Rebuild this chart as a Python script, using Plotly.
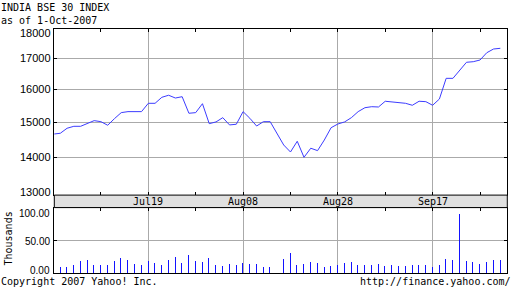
import math
import pandas as pd
import plotly.graph_objects as go

# ---------------- data ----------------
# weekday calendar (trading-day axis), Jun 29 2007 .. Oct 1 2007
dates = [d.strftime("%Y-%m-%d") for d in pd.bdate_range("2007-06-29", "2007-10-01")]

close = [
    14652,                                                  # Jun 29
    14675, 14820, 14877, 14877, 14954,                      # Jul 2-6
    15043, 15013, 14908, 15102, 15281,                      # Jul 9-13
    15311, 15302, 15311, 15563, 15563,                      # Jul 16-20
    15747, 15811, 15725, 15766, 15262,                      # Jul 23-27
    15281, 15551, 14954, 15005, 15131,                      # Jul 30-Aug 3
    14917, 14937, 15311, 15113, 14885,                      # Aug 6-10
    15013, 15013, None, 14342, 14146,                       # Aug 13-17 (15th holiday)
    14447, 14000, 14251, 14184, 14483,                      # Aug 20-24
    14836, 14944, 15005, 15131, 15311,                      # Aug 27-31
    15430, 15460, 15451, 15626, 15604,                      # Sep 3-7
    15595, 15563, 15503, 15626, 15613,                      # Sep 10-14
    15503, 15694, 16344, 16344, 16589,                      # Sep 17-21
    16866, 16886, 16942, 17186, 17311,                      # Sep 24-28
    17335,                                                  # Oct 1
]

volume_k = [
    None,
    9.9, 9.9, 14, 19, 20.5,
    14, 12.5, 14, 20, 23.5,
    20.5, 15.5, 13, 19, 17,
    12.5, 21.5, 25, 17, 29,
    20, 18.5, 23.5, 14, 11,
    15.5, 14, 17, 15.5, 15.5,
    9.9, 9.9, None, 22, 32,
    12.5, 15.5, 18.5, 17, 9.5,
    11, 14, 17, 18.5, 14,
    14, 12.5, 15.5, 11, 14,
    11, 11, 12.5, 12.5, 12.5,
    9.5, 12.5, 23, 21.5, 90.5,
    20, 18.5, 15.5, 18.5, 21.5,
    21.5,
]

major_dates = ["2007-07-19", "2007-08-08", "2007-08-28", "2007-09-17"]
major_labels = ["Jul19", "Aug08", "Aug28", "Sep17"]
minor_dates = ["2007-07-10", "2007-07-30", "2007-08-17", "2007-09-06", "2007-09-26"]

price_ticks = [13000, 14000, 15000, 16000, 17000, 18000]
price_labels = ["13000", "14000", "15000", "16000", "17000", "18000"]
vol_ticks = [0, 50, 100]
vol_labels = ["0.00", "50.00", "100.00"]

title1 = "INDIA BSE 30 INDEX"
title2 = "as of 1-Oct-2007"
foot_left = "Copyright 2007 Yahoo! Inc."
foot_right = "http://finance.yahoo.com/"

# ---------------- figure ----------------
W, H = 512, 288
x = list(range(len(dates)))
major_idx = [dates.index(d) for d in major_dates]
minor_idx = [dates.index(d) for d in minor_dates]

X0, X1 = 54.3, 507.3            # plot left/right (px)
MAIN_TOP, MAIN_BOT = 29.1, 195.1
VOL_TOP, VOL_BOT = 207.6, 273.3
xdom = [X0 / W, X1 / W]
xrange_ = [0.114, 67.03]

mono = "DejaVu Sans Mono"
sans = "Liberation Sans"
grid = "#aaaaaa"

def py(p):
    return 1 - p / H

fig = go.Figure()
fig.add_trace(go.Scatter(
    x=x, y=close, mode="lines", connectgaps=True,
    line=dict(color="#3c3cff", width=1),
    xaxis="x", yaxis="y", hoverinfo="skip",
))
fig.add_trace(go.Bar(
    x=x, y=volume_k, width=0.147,
    marker=dict(color="rgba(16,16,255,0.99)", line=dict(width=0)),
    xaxis="x2", yaxis="y2", hoverinfo="skip",
))

common_x = dict(
    domain=xdom, range=xrange_, tickmode="array", tickvals=major_idx,
    showticklabels=False, showgrid=True, gridcolor=grid, gridwidth=1,
    ticks="inside", ticklen=3, tickcolor="black", tickwidth=1,
    showline=True, linecolor="black", linewidth=1, zeroline=False,
    minor=dict(tickmode="array", tickvals=minor_idx, ticks="inside",
               ticklen=3, tickcolor="black", showgrid=False),
)

fig.update_layout(
    width=W, height=H, margin=dict(l=0, r=0, t=0, b=0),
    paper_bgcolor="white", plot_bgcolor="white", showlegend=False,
    bargap=0,
    xaxis=dict(**common_x, anchor="y", mirror="allticks"),
    yaxis=dict(
        domain=[py(MAIN_BOT), py(MAIN_TOP)], type="log",
        range=[math.log10(13000), math.log10(18000)],
        tickmode="array", tickvals=price_ticks, showticklabels=False,
        showgrid=True, gridcolor=grid, gridwidth=1,
        ticks="inside", ticklen=3, tickcolor="black",
        showline=True, linecolor="black", linewidth=1, mirror="allticks",
        zeroline=False, anchor="x",
    ),
    xaxis2=dict(**common_x, anchor="y2", side="top", mirror=True),
    yaxis2=dict(
        domain=[py(VOL_BOT), py(VOL_TOP)], range=[0, 100],
        tickmode="array", tickvals=vol_ticks, showticklabels=False,
        showgrid=True, gridcolor=grid, gridwidth=1,
        ticks="inside", ticklen=3, tickcolor="black",
        showline=True, linecolor="black", linewidth=1, mirror="allticks",
        zeroline=False, anchor="x2",
    ),
)

# grey date band between panels
fig.add_shape(type="rect", xref="paper", yref="paper",
              x0=xdom[0], x1=xdom[1], y0=py(VOL_TOP), y1=py(MAIN_BOT),
              fillcolor="#e0e0e0", line=dict(color="black", width=1), layer="above")

ann = []
def text(t, xx, yy, xref="paper", yref="paper", xanchor="left", yanchor="middle",
         font=mono, size=10, yshift=0, angle=0):
    ann.append(dict(text=t, x=xx, y=yy, xref=xref, yref=yref, xanchor=xanchor,
                    yanchor=yanchor, showarrow=False, borderpad=0, yshift=yshift,
                    textangle=angle, font=dict(family=font, size=size, color="black")))

text(title1, 0, py(7), xanchor="left")
text(title2, 0, py(20.5), xanchor="left")
text(foot_left, 0, py(281.5), xanchor="left")
text(foot_right, 1, py(281.5), xanchor="right")
text("Thousands", 7.5 / W, py(239), xanchor="center", angle=-90)

for i, lab in zip(major_idx, major_labels):
    text(lab, i, py(201), xref="x", xanchor="center")

for v, lab in zip(price_ticks, price_labels):
    sh = -4 if v == price_ticks[-1] else (3 if v == price_ticks[0] else 0)
    text(lab, 51.5 / W, math.log10(v), yref="y", xanchor="right",
         font=sans, size=11, yshift=sh)

for v, lab in zip(vol_ticks, vol_labels):
    sh = -5.5 if v == vol_ticks[-1] else (3 if v == vol_ticks[0] else -1)
    text(lab, 51 / W, v, yref="y2", xanchor="right", font=sans, size=10, yshift=sh)

fig.update_layout(annotations=ann)

fig.write_html("out.html", config={"displayModeBar": False})
